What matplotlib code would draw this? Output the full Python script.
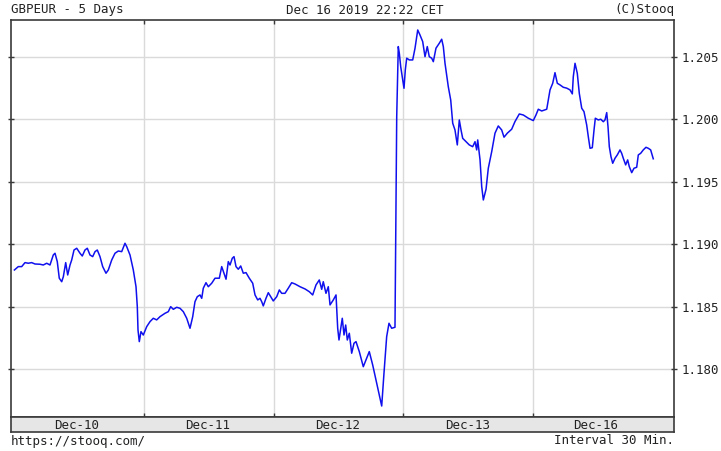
import matplotlib
matplotlib.use("Agg")
import matplotlib.pyplot as plt

# ---- data: hours since Dec-10 00:00 (trading-time axis) and GBPEUR price ----
dec10_hours = [0.00, 0.72, 1.35, 1.96, 2.57, 3.20, 3.81, 4.74, 5.35, 5.98, 6.59, 7.20, 7.52, 7.94,
               8.31, 8.76, 9.06, 9.50, 9.87, 10.30, 10.61, 11.04, 11.54, 12.15, 12.57, 13.07, 13.50,
               14.00, 14.50, 14.93, 15.35, 15.85, 16.35, 16.96, 17.39, 18.02, 18.63, 19.24, 19.87,
               20.48, 20.80, 21.41, 22.02, 22.52, 22.76, 22.89, 23.13, 23.44, 23.87]
dec10_price = [1.18793, 1.18820, 1.18820, 1.18852, 1.18847, 1.18852, 1.18841, 1.18839, 1.18833,
               1.18847, 1.18833, 1.18913, 1.18927, 1.18860, 1.18727, 1.18699, 1.18739, 1.18852,
               1.18753, 1.18833, 1.18873, 1.18953, 1.18967, 1.18927, 1.18905, 1.18953, 1.18967,
               1.18913, 1.18900, 1.18940, 1.18953, 1.18900, 1.18820, 1.18767, 1.18793, 1.18873,
               1.18927, 1.18945, 1.18940, 1.19007, 1.18980, 1.18913, 1.18793, 1.18659, 1.18499,
               1.18312, 1.18219, 1.18299, 1.18272]

dec11_hours = [24.50, 25.11, 25.72, 26.35, 26.96, 27.89, 28.50, 28.94, 29.43, 30.06, 30.67, 31.28,
               31.91, 32.52, 33.02, 33.44, 33.87, 34.37, 34.69, 34.98, 35.48, 35.91, 36.54, 37.15,
               37.95, 38.39, 38.82, 39.19, 39.61, 39.93, 40.35, 40.67, 41.04, 41.46, 41.91, 42.39,
               42.89, 43.50, 44.13, 44.56, 45.06, 45.48, 45.80, 46.09, 46.59, 47.02, 47.46, 47.94]
dec11_price = [1.18339, 1.18379, 1.18406, 1.18393, 1.18419, 1.18446, 1.18459, 1.18499, 1.18478,
               1.18494, 1.18486, 1.18459, 1.18406, 1.18326, 1.18419, 1.18539, 1.18579, 1.18593,
               1.18566, 1.18647, 1.18691, 1.18659, 1.18687, 1.18727, 1.18727, 1.18820, 1.18767,
               1.18719, 1.18860, 1.18833, 1.18887, 1.18900, 1.18820, 1.18799, 1.18825, 1.18767,
               1.18772, 1.18727, 1.18687, 1.18593, 1.18553, 1.18566, 1.18539, 1.18505, 1.18566,
               1.18611, 1.18579, 1.18545]

dec12_hours = [48.58, 49.06, 49.50, 50.11, 50.72, 51.35, 51.96, 52.89, 53.82, 54.61, 55.24, 55.85,
               56.46, 56.91, 57.20, 57.70, 58.13, 58.45, 59.06, 59.56, 59.87, 60.11, 60.48, 60.72,
               61.04, 61.35, 61.65, 62.02, 62.46, 62.89, 63.26, 63.87, 64.61, 65.24, 65.72, 66.35,
               66.96, 67.57, 68.02, 68.44, 68.94, 69.37, 69.87, 70.48, 70.80, 71.09, 71.28, 71.54,
               71.91]
dec12_price = [1.18579, 1.18633, 1.18606, 1.18606, 1.18647, 1.18691, 1.18681, 1.18659, 1.18641,
               1.18619, 1.18593, 1.18673, 1.18713, 1.18638, 1.18699, 1.18606, 1.18659, 1.18513,
               1.18553, 1.18593, 1.18326, 1.18232, 1.18339, 1.18406, 1.18272, 1.18352, 1.18232,
               1.18286, 1.18126, 1.18206, 1.18219, 1.18139, 1.18018, 1.18086, 1.18139, 1.18032,
               1.17912, 1.17792, 1.17703, 1.17965, 1.18259, 1.18366, 1.18326, 1.18334, 1.20022,
               1.20583, 1.20530, 1.20422, 1.20316]

dec13_hours = [72.15, 72.39, 72.65, 73.13, 73.76, 74.19, 74.69, 75.11, 75.61, 76.04, 76.46, 76.83,
               77.28, 77.58, 78.07, 78.69, 79.13, 79.43, 79.74, 80.35, 80.80, 81.17, 81.59, 82.02,
               82.39, 82.71, 83.02, 83.63, 84.24, 84.87, 85.30, 85.61, 85.80, 86.23, 86.54, 86.84,
               87.34, 87.76, 88.39, 89.00, 89.61, 90.24, 90.67, 91.28, 92.09, 92.70, 93.50, 94.24,
               95.17]
dec13_price = [1.20249, 1.20396, 1.20490, 1.20476, 1.20476, 1.20570, 1.20716, 1.20676, 1.20623,
               1.20502, 1.20583, 1.20502, 1.20490, 1.20462, 1.20570, 1.20610, 1.20642, 1.20583,
               1.20450, 1.20262, 1.20155, 1.19969, 1.19915, 1.19795, 1.19995, 1.19915, 1.19848,
               1.19821, 1.19795, 1.19781, 1.19821, 1.19755, 1.19835, 1.19675, 1.19461, 1.19354,
               1.19440, 1.19608, 1.19741, 1.19889, 1.19947, 1.19915, 1.19857, 1.19889, 1.19921,
               1.19982, 1.20043, 1.20035, 1.20009]

dec16_hours = [96.09, 96.59, 97.02, 97.65, 98.58, 98.87, 99.19, 99.69, 100.11, 100.54, 101.04,
               101.65, 102.28, 102.89, 103.32, 103.50, 103.82, 104.24, 104.61, 105.06, 105.48,
               105.98, 106.28, 106.60, 107.02, 107.34, 107.58, 108.13, 108.58, 109.06, 109.37,
               109.69, 109.93, 110.17, 110.48, 110.80, 111.22, 111.65, 112.15, 112.46, 112.76,
               113.20, 113.57, 113.87, 114.32, 114.74, 115.24, 115.54, 115.98, 116.46, 116.96,
               117.39, 117.83, 118.31]
dec16_price = [1.19990, 1.20035, 1.20081, 1.20067, 1.20081, 1.20155, 1.20236, 1.20289, 1.20374,
               1.20289, 1.20276, 1.20257, 1.20250, 1.20236, 1.20204, 1.20342, 1.20449, 1.20369,
               1.20209, 1.20089, 1.20062, 1.19955, 1.19861, 1.19768, 1.19773, 1.19915, 1.20009,
               1.19995, 1.20001, 1.19981, 1.19995, 1.20054, 1.19941, 1.19781, 1.19701, 1.19648,
               1.19688, 1.19715, 1.19755, 1.19728, 1.19688, 1.19635, 1.19675, 1.19621, 1.19573,
               1.19608, 1.19616, 1.19715, 1.19728, 1.19755, 1.19776, 1.19768, 1.19755, 1.19684]

day_labels = ["Dec-10", "Dec-11", "Dec-12", "Dec-13", "Dec-16"]
y_ticks = [1.180, 1.185, 1.190, 1.195, 1.200, 1.205]

hour_lists = [dec10_hours, dec11_hours, dec12_hours, dec13_hours, dec16_hours]
price_lists = [dec10_price, dec11_price, dec12_price, dec13_price, dec16_price]
hours, prices = [], []
for h, p in zip(hour_lists, price_lists):
    if len(h) != len(p):
        raise ValueError("length mismatch %d %d" % (len(h), len(p)))
    hours += h
    prices += p

# ---- figure ----
W, H = 721, 451
fig = plt.figure(figsize=(W / 100, H / 100), dpi=100)
fig.patch.set_facecolor("white")
FONT = "DejaVu Sans Mono"
FS = 9
TXT = "#222222"
EDGE = "#3a3a3a"

L, R, T, B = 11, 674, 20, 417
ax = fig.add_axes([L / W, (H - B) / H, (R - L) / W, (B - T) / H])
ax.plot(hours, prices, color="#1010ee", lw=1.1, solid_joinstyle="round")
ax.set_xlim(-0.63, 122.15)
ax.set_ylim(1.17615, 1.20796)

ax.set_yticks(y_ticks)
ax.set_yticklabels(["%.3f" % v for v in y_ticks], fontfamily=FONT, fontsize=FS, color=TXT)
ax.yaxis.tick_right()
ax.tick_params(axis="y", left=True, right=True, labelleft=False, labelright=True,
               direction="inout", length=4, width=1, color=EDGE, pad=3.5)
ax.set_xticks([24, 48, 72, 96])
ax.tick_params(axis="x", top=True, bottom=True, labelbottom=False, direction="in",
               length=3, width=1, color=EDGE)
ax.grid(True, color="#dadada", lw=1)
ax.set_axisbelow(True)
for s in ax.spines.values():
    s.set_color(EDGE)
    s.set_linewidth(1.2)

# date band
band_bottom = 432
bx = fig.add_axes([L / W, (H - band_bottom) / H, (R - L) / W, (band_bottom - B) / H])
bx.set_facecolor("#e6e6e6")
bx.set_xlim(ax.get_xlim())
bx.set_ylim(0, 1)
bx.set_xticks([])
bx.set_yticks([])
for s in bx.spines.values():
    s.set_color(EDGE)
    s.set_linewidth(1.2)
label_pos = [11.5, 35.7, 59.9, 83.85, 107.6]
for xp, lab in zip(label_pos, day_labels):
    bx.text(xp, 0.45, lab, ha="center", va="center", fontfamily=FONT, fontsize=FS, color=TXT)

# header / footer
fig.text(L / W, 1 - 10 / H, "GBPEUR - 5 Days", ha="left", va="center",
         fontfamily=FONT, fontsize=FS, color=TXT)
fig.text(364.5 / W, 1 - 10 / H, "Dec 16 2019 22:22 CET", ha="center", va="center",
         fontfamily=FONT, fontsize=FS, color=TXT)
fig.text(R / W, 1 - 10 / H, "(C)Stooq", ha="right", va="center",
         fontfamily=FONT, fontsize=FS, color=TXT)
fig.text(L / W, 1 - 441 / H, "https://stooq.com/", ha="left", va="center",
         fontfamily=FONT, fontsize=FS, color=TXT)
fig.text(R / W, 1 - 441 / H, "Interval 30 Min.", ha="right", va="center",
         fontfamily=FONT, fontsize=FS, color=TXT)

fig.savefig("out.png", dpi=100)
